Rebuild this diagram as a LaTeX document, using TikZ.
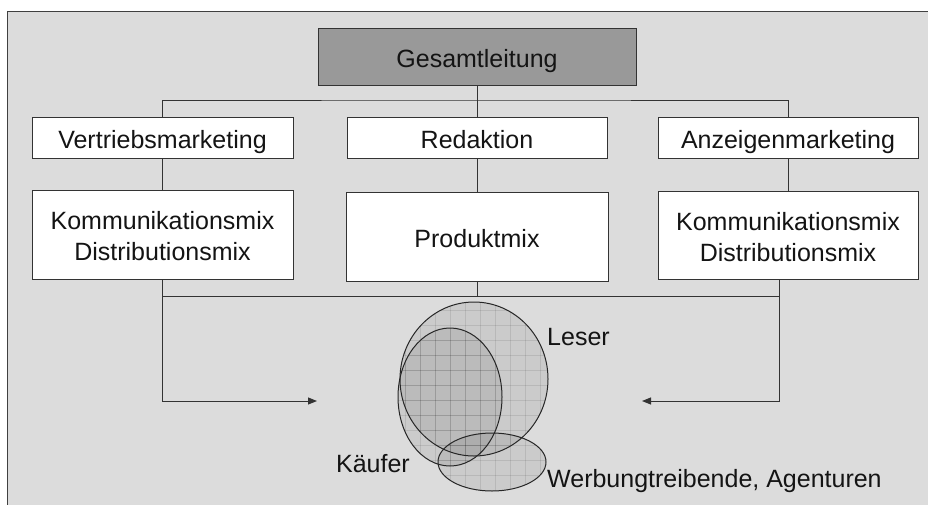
\documentclass[tikz,border=0pt]{standalone}
\usepackage{fontspec}
\setmainfont{Liberation Sans}
\usetikzlibrary{arrows.meta}
\definecolor{bgc}{HTML}{DCDCDC}
\definecolor{headc}{HTML}{999999}
\definecolor{linec}{HTML}{333333}
\newcommand\onel[1]{\raisebox{-10.5pt}[0pt][0pt]{#1}}
\newcommand\twol[2]{\raisebox{-11pt}[0pt][0pt]{\begin{tabular}{@{}c@{}}#1\\#2\end{tabular}}}
\newcommand\setgridlines{%
  \foreach \gx in {390,405,...,570} {\draw[setgrid] (\gx,280) -- (\gx,500);}
  \foreach \gy in {280,295,...,500} {\draw[setgrid] (385,\gy) -- (575,\gy);}}
\tikzset{
  box/.style={draw=linec, line width=1pt, fill=white, inner sep=0pt, align=center,
    font=\fontsize{25}{31}\selectfont, text=black!92},
  conn/.style={draw=linec, line width=1pt},
  arr/.style={conn, -{Triangle[length=9pt,width=7pt]}},
  setline/.style={draw=black!85, line width=1pt},
  setfill/.style={fill=black, opacity=0.075},
  setgrid/.style={line width=0.5pt, black, opacity=0.09},
  lbl/.style={inner sep=0pt, font=\fontsize{25}{31}\selectfont, text=black!92}
}
\begin{document}
\begin{tikzpicture}[x=1pt,y=-1pt]
\useasboundingbox (0,0) rectangle (928,504);
\fill[white] (0,0) rectangle (928,504);
\draw[line width=1.6pt, draw=black!75, fill=bgc] (7.5,11.5) rectangle (945,520);

% boxes
\node[box, fill=headc, minimum width=318pt, minimum height=57pt] (G) at (477,56.5) {\onel{Gesamtleitung}};
\node[box, minimum width=261pt, minimum height=41pt] (V) at (162.5,137.5) {\onel{Vertriebsmarketing}};
\node[box, minimum width=260pt, minimum height=41pt] (R) at (477,137.5) {\onel{Redaktion}};
\node[box, minimum width=260pt, minimum height=41pt] (A) at (788,137.5) {\onel{Anzeigenmarketing}};
\node[box, minimum width=261pt, minimum height=89pt] (KL) at (162.5,234.5) {\twol{Kommunikationsmix}{Distributionsmix}};
\node[box, minimum width=262pt, minimum height=89pt] (P) at (477,236.5) {\onel{Produktmix}};
\node[box, minimum width=260pt, minimum height=88pt] (KR) at (788,235) {\twol{Kommunikationsmix}{Distributionsmix}};

% top connectors
\coordinate (bus1) at (477,100);
\draw[conn] (G.south) -- (R.north);
\draw[conn] (V.north) |- (bus1) -| (A.north);
\draw[conn] (V.south) -- (KL.north);
\draw[conn] (R.south) -- (P.north);
\draw[conn] (A.south) -- (KR.north);

% bottom connectors
\coordinate (busL) at (162.5,296);
\coordinate (busR) at (779,296);
\coordinate (KRb) at (779,279);
\coordinate (arrL) at (317,401);
\coordinate (arrR) at (642,401);
\draw[conn] (busL) -- (busR);
\draw[conn] (P.south) -- (P.south |- busL);
\draw[arr] (KL.south) |- (arrL);
\draw[arr] (KRb) |- (arrR);

% sets
\fill[setfill] (474,379) ellipse [x radius=74, y radius=77];
\begin{scope}
  \clip (474,379) ellipse [x radius=74, y radius=77];
  \setgridlines
\end{scope}
\fill[setfill] (450,397) ellipse [x radius=52, y radius=69];
\begin{scope}
  \clip (450,397) ellipse [x radius=52, y radius=69];
  \setgridlines
\end{scope}
\fill[setfill] (492,462) ellipse [x radius=54, y radius=29];
\begin{scope}
  \clip (492,462) ellipse [x radius=54, y radius=29];
  \setgridlines
\end{scope}
\draw[setline] (474,379) ellipse [x radius=74, y radius=77];
\draw[setline] (450,397) ellipse [x radius=52, y radius=69];
\draw[setline] (492,462) ellipse [x radius=54, y radius=29];

% labels
\node[lbl, anchor=west] (leser) at (547,337) {Leser};
\node[lbl, anchor=east] (kaeufer) at (410,464) {Käufer};
\node[lbl, anchor=west] (werb) at (547,481) {Werbungtreibende, Agenturen};
\end{tikzpicture}
\end{document}
